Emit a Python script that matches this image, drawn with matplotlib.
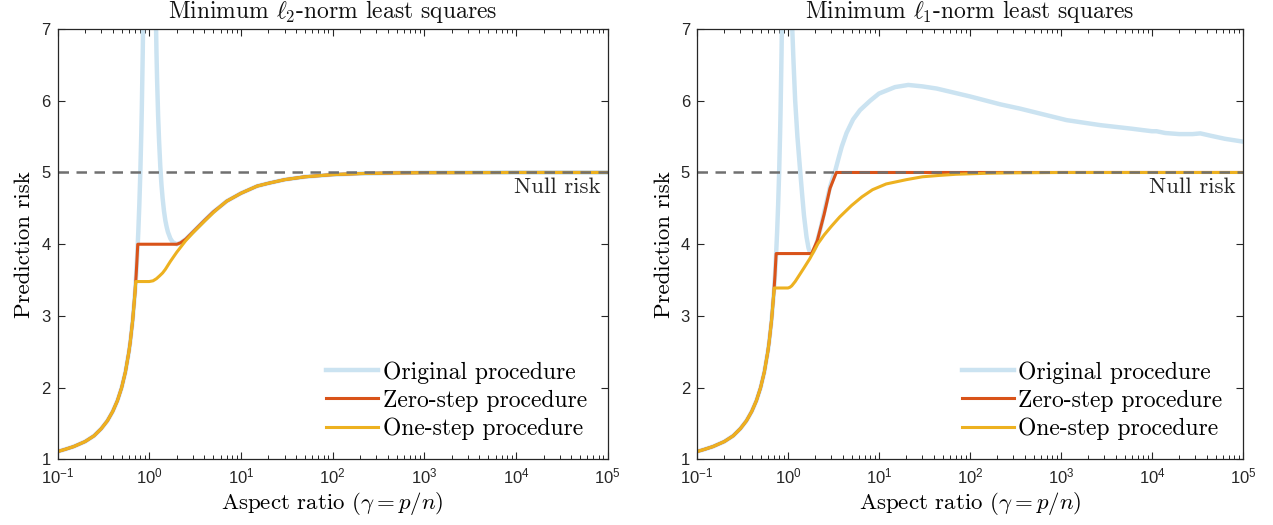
import matplotlib
matplotlib.use('Agg')
import matplotlib.pyplot as plt
from matplotlib.ticker import NullFormatter

plt.rcParams['mathtext.fontset'] = 'cm'
plt.rcParams['font.family'] = 'cmr10'
plt.rcParams['axes.formatter.use_mathtext'] = True

# ---- data ----
# left panel: minimum l2-norm least squares
l2_orig_x = [0.1, 0.12, 0.15, 0.2, 0.25, 0.3, 0.35, 0.4, 0.45, 0.5, 0.55, 0.6, 0.62, 0.66,
             0.7, 0.72, 0.74, 0.76, 0.78, 0.8, 0.82, 0.83, 0.85, 0.87, 0.9, 0.95,
             1.05, 1.1, 1.12, 1.16, 1.2, 1.22, 1.25, 1.28, 1.32, 1.36, 1.4, 1.45, 1.5, 1.55,
             1.6, 1.7, 1.8, 2.0, 2.2, 2.5,
             3, 4, 5, 6, 7, 10, 15, 20, 30, 50, 100, 200, 500, 1e3, 1e4, 1e5]
l2_orig_y = [1.11, 1.14, 1.18, 1.25, 1.33, 1.43, 1.54, 1.67, 1.82, 2.0, 2.22, 2.5, 2.63, 2.94,
             3.33, 3.57, 3.85, 4.17, 4.55, 5.0, 5.56, 5.88, 6.67, 7.69, 10, 20,
             21.2, 11.4, 9.76, 7.8, 6.67, 6.27, 5.8, 5.45, 5.09, 4.83, 4.64, 4.46, 4.33, 4.24,
             4.17, 4.08, 4.03, 4.0, 4.02, 4.07,
             4.17, 4.33, 4.45, 4.53, 4.6, 4.71, 4.81, 4.85, 4.9, 4.94, 4.97, 4.985, 4.994, 4.997, 5.0, 5.0]

l2_zero_x = [0.1, 0.12, 0.15, 0.2, 0.25, 0.3, 0.35, 0.4, 0.45, 0.5, 0.55, 0.6, 0.62, 0.66,
             0.7, 0.72, 0.74, 0.75, 2.0, 2.2, 2.5, 3, 4, 5, 6, 7, 10, 15, 20, 30, 50,
             100, 200, 500, 1e3, 1e4, 1e5]
l2_zero_y = [1.11, 1.14, 1.18, 1.25, 1.33, 1.43, 1.54, 1.67, 1.82, 2.0, 2.22, 2.5, 2.63, 2.94,
             3.33, 3.57, 3.85, 4.0, 4.0, 4.02, 4.07, 4.17, 4.33, 4.45, 4.53, 4.6, 4.71, 4.81, 4.85, 4.9, 4.94,
             4.97, 4.985, 4.994, 4.997, 5.0, 5.0]

l2_one_x = [0.1, 0.12, 0.15, 0.2, 0.25, 0.3, 0.35, 0.4, 0.45, 0.5, 0.55, 0.6, 0.62, 0.66,
            0.7, 0.713, 1.0, 1.1, 1.2, 1.3, 1.4, 1.5, 1.7, 2.0, 2.5, 3, 4, 5, 6, 7, 10, 15, 20, 30, 50,
            100, 200, 500, 1e3, 1e4, 1e5]
l2_one_y = [1.11, 1.14, 1.18, 1.25, 1.33, 1.43, 1.54, 1.67, 1.82, 2.0, 2.22, 2.5, 2.63, 2.94,
            3.33, 3.48, 3.48, 3.49, 3.52, 3.56, 3.6, 3.65, 3.76, 3.89, 4.05, 4.16, 4.32, 4.44, 4.53, 4.6, 4.71, 4.81, 4.85, 4.9, 4.94,
            4.97, 4.985, 4.994, 4.997, 5.0, 5.0]

# right panel: minimum l1-norm least squares
l1_orig_x = [0.1, 0.12, 0.15, 0.2, 0.25, 0.3, 0.35, 0.4, 0.45, 0.5, 0.55, 0.6, 0.62, 0.66,
             0.7, 0.72, 0.74, 0.76, 0.78, 0.8, 0.82, 0.83, 0.85, 0.87, 0.9, 0.95,
             1.05, 1.1, 1.15, 1.2, 1.27, 1.35, 1.43, 1.5, 1.6, 1.68, 1.75, 1.82, 1.9, 2.0, 2.1,
             2.3, 2.45, 2.7, 2.9, 3.1, 3.3, 3.6, 3.9, 4.4, 5.2, 6.2,
             8, 10, 15, 21, 30, 43, 100, 215, 355, 1150, 2700, 6000, 8000, 1e4, 1.12e4,
             1.4e4, 2e4, 2.8e4, 3.4e4, 4.5e4, 6.3e4, 1e5]
l1_orig_y = [1.11, 1.14, 1.18, 1.25, 1.33, 1.43, 1.54, 1.67, 1.82, 2.0, 2.22, 2.5, 2.63, 2.94,
             3.33, 3.57, 3.85, 4.17, 4.55, 5.0, 5.56, 5.88, 6.67, 7.69, 10, 20,
             12, 7.2, 6.55, 6.0, 5.5, 5.08, 4.7, 4.4, 4.1, 3.95, 3.88, 3.87, 3.9, 3.96, 4.05,
             4.24, 4.4, 4.63, 4.8, 4.92, 5.02, 5.2, 5.36, 5.55, 5.74, 5.87,
             6.0, 6.1, 6.19, 6.22, 6.2, 6.17, 6.06, 5.95, 5.89, 5.73, 5.66, 5.61, 5.59, 5.575, 5.575,
             5.55, 5.535, 5.535, 5.545, 5.51, 5.47, 5.43]

l1_zero_x = [0.1, 0.12, 0.15, 0.2, 0.25, 0.3, 0.35, 0.4, 0.45, 0.5, 0.55, 0.6, 0.62, 0.66,
             0.7, 0.72, 0.74, 0.742, 1.82, 2.1, 2.5, 2.9, 3.4, 1e5]
l1_zero_y = [1.11, 1.14, 1.18, 1.25, 1.33, 1.43, 1.54, 1.67, 1.82, 2.0, 2.22, 2.5, 2.63, 2.94,
             3.33, 3.57, 3.85, 3.87, 3.87, 4.05, 4.42, 4.78, 5.0, 5.0]

l1_one_x = [0.1, 0.12, 0.15, 0.2, 0.25, 0.3, 0.35, 0.4, 0.45, 0.5, 0.55, 0.6, 0.62, 0.66,
            0.7, 0.705, 1.0, 1.05, 1.1, 1.2, 1.35, 1.5, 1.74, 2.14, 2.5, 3.0, 3.7, 5, 6.5, 8.5,
            12, 20, 30, 47, 70, 160, 300, 1e3, 1e5]
l1_one_y = [1.11, 1.14, 1.18, 1.25, 1.33, 1.43, 1.54, 1.67, 1.82, 2.0, 2.22, 2.5, 2.63, 2.94,
            3.33, 3.39, 3.39, 3.4, 3.42, 3.48, 3.58, 3.67, 3.8, 4.01, 4.13, 4.25, 4.38, 4.54, 4.66, 4.76,
            4.84, 4.9, 4.94, 4.96, 4.975, 4.99, 4.995, 5.0, 5.0]

null_risk = 5
titles = [r'Minimum $\ell_2$-norm least squares', r'Minimum $\ell_1$-norm least squares']
legend_labels = ['Original procedure', 'Zero-step procedure', 'One-step procedure']
x_ticks = [1e-1, 1e0, 1e1, 1e2, 1e3, 1e4, 1e5]
x_tick_labels = [r'$\mathregular{10^{-1}}$', r'$\mathregular{10^{0}}$', r'$\mathregular{10^{1}}$',
                 r'$\mathregular{10^{2}}$', r'$\mathregular{10^{3}}$', r'$\mathregular{10^{4}}$',
                 r'$\mathregular{10^{5}}$']
y_ticks = [1, 2, 3, 4, 5, 6, 7]

c_orig = '#cbe3f1'
c_zero = '#d95319'
c_one = '#edb120'
c_axis = '#262626'
fs = 16.5

fig = plt.figure(figsize=(12.73, 5.25), dpi=100)
ax1 = fig.add_axes([0.0452, 0.1248, 0.4321, 0.820])
ax2 = fig.add_axes([0.5475, 0.1248, 0.4289, 0.820])

panels = [
    (ax1, l2_orig_x, l2_orig_y, l2_zero_x, l2_zero_y, l2_one_x, l2_one_y),
    (ax2, l1_orig_x, l1_orig_y, l1_zero_x, l1_zero_y, l1_one_x, l1_one_y),
]

for i, (ax, ox, oy, zx, zy, ex, ey) in enumerate(panels):
    ax.plot(ox, oy, color=c_orig, lw=3.2, label=legend_labels[0], solid_joinstyle='round')
    ax.plot(zx, zy, color=c_zero, lw=2.2, label=legend_labels[1])
    ax.plot(ex, ey, color=c_one, lw=2.2, label=legend_labels[2])
    ax.axhline(null_risk, color='#707070', lw=1.8, dashes=(4.2, 3.0))
    ax.text(8.3e4, 4.79, 'Null risk', ha='right', va='center', fontsize=fs, color='#262626')

    ax.set_xscale('log')
    ax.set_xlim(1e-1, 1e5)
    ax.set_ylim(1, 7)
    ax.set_xticks(x_ticks, x_tick_labels, fontfamily='Liberation Sans', fontsize=12)
    ax.set_yticks(y_ticks, [str(v) for v in y_ticks], fontfamily='Liberation Sans', fontsize=12)
    ax.xaxis.set_minor_formatter(NullFormatter())
    ax.tick_params(which='both', direction='in', top=True, right=True, colors=c_axis)
    ax.tick_params(which='major', length=5, width=0.8, pad=5)
    ax.tick_params(which='minor', length=3, width=0.7)
    for s in ax.spines.values():
        s.set_color(c_axis)
        s.set_linewidth(0.9)

    ax.set_title(titles[i], fontsize=17, color='#111111', pad=8)
    ax.set_xlabel(r'Aspect ratio ($\gamma = p/n$)', fontsize=fs, labelpad=3)
    ax.set_ylabel('Prediction risk', fontsize=fs, labelpad=5)
    ax.legend(loc='lower right', bbox_to_anchor=(0.98, 0.023), frameon=False, fontsize=17,
              handlelength=2.2, handletextpad=0.2, labelspacing=0.25, borderaxespad=0)

fig.savefig('out.png', dpi=100)
